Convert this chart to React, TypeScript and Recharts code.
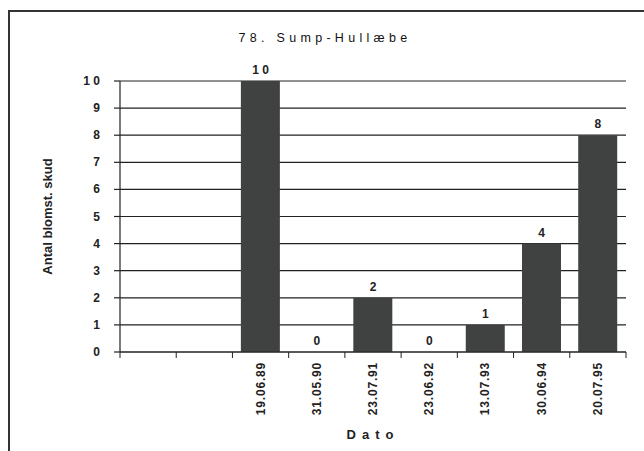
import { ComposedChart, Bar, Line, XAxis, YAxis, CartesianGrid } from "recharts";

// Sump-Hullæbe, antal blomstrende skud pr. optælling
const dates = ["", "", "19.06.89", "31.05.90", "23.07.91", "23.06.92", "13.07.93", "30.06.94", "20.07.95"];
const counts = [null, null, 10, 0, 2, 0, 1, 4, 8];
const yTicks = [0, 1, 2, 3, 4, 5, 6, 7, 8, 9, 10];

const data = dates.map((d, i) => ({ dato: d, antal: counts[i] }));

const ink = "#222";

// tallene er spredt ud som i originalen ("1 0")
const spread = (v: any) => String(v).split("").join(" ");

const DateTick = (props: any) => {
  const { x, y, payload, index } = props;
  const half = payload?.offset ?? 28;
  const axisY = y - 10;
  return (
    <g>
      <line x1={x - half} x2={x - half} y1={axisY} y2={axisY + 6} stroke={ink} />
      {index === dates.length - 1 && (
        <line x1={x + half} x2={x + half} y1={axisY} y2={axisY + 6} stroke={ink} />
      )}
      <text
        x={x}
        y={y}
        transform={`rotate(-90 ${x} ${y})`}
        textAnchor="end"
        dominantBaseline="central"
        fontSize={12}
        fontWeight="bold"
        fill={ink}
        letterSpacing={0.8}
      >
        {payload.value}
      </text>
    </g>
  );
};

const CountTick = (props: any) => {
  const { x, y, payload } = props;
  return (
    <text
      x={x}
      y={y}
      textAnchor="end"
      dominantBaseline="central"
      fontSize={12}
      fontWeight="bold"
      fill={ink}
      style={{ whiteSpace: "pre" }}
    >
      {spread(payload.value)}
    </text>
  );
};

const ValueLabel = (props: any) => {
  const { x, y, value } = props;
  if (value === null || value === undefined) return null;
  return (
    <text
      x={x}
      y={y - 7}
      textAnchor="middle"
      fontSize={12}
      fontWeight="bold"
      fill={ink}
      style={{ whiteSpace: "pre" }}
    >
      {spread(value)}
    </text>
  );
};

export default function App() {
  return (
    <div
      style={{
        position: "absolute",
        top: 0,
        left: 0,
        width: 644,
        height: 451,
        background: "#fff",
        fontFamily: "Arial, 'Liberation Sans', sans-serif",
      }}
    >
      {/* ramme */}
      <div
        style={{
          position: "absolute",
          left: 8,
          top: 10,
          width: 636,
          height: 441,
          borderTop: "2px solid #333",
          borderLeft: "2px solid #333",
        }}
      />
      <div
        style={{
          position: "absolute",
          top: 31,
          left: 0,
          width: 650,
          textAlign: "center",
          fontSize: 12.5,
          letterSpacing: 4.3,
          color: "#111",
        }}
      >
        78. Sump-Hullæbe
      </div>
      <ComposedChart
        width={644}
        height={451}
        data={data}
        margin={{ top: 81, right: 18, left: 0, bottom: 0 }}
        barCategoryGap="15%"
        style={{ position: "absolute", top: 0, left: 0 }}
      >
        <CartesianGrid vertical={false} stroke={ink} strokeWidth={1.2} />
        <XAxis
          dataKey="dato"
          height={99}
          interval={0}
          tickSize={6}
          tickMargin={4}
          tickLine={false}
          axisLine={{ stroke: ink, strokeWidth: 1.2 }}
          tick={<DateTick />}
          label={{
            value: "Dato",
            position: "insideBottom",
            offset: 12,
            fontSize: 13,
            fontWeight: "bold",
            fill: ink,
            letterSpacing: 6,
          }}
        />
        <YAxis
          width={120}
          domain={[0, 10]}
          ticks={yTicks}
          interval={0}
          tickSize={6}
          tickMargin={14}
          axisLine={{ stroke: ink, strokeWidth: 1.2 }}
          tickLine={{ stroke: ink, strokeWidth: 1.2 }}
          tick={<CountTick />}
          label={{
            value: "Antal blomst. skud",
            angle: -90,
            position: "insideLeft",
            offset: 47,
            fontSize: 13,
            fontWeight: "bold",
            fill: ink,
            style: { textAnchor: "middle" },
          }}
        />
        <Bar dataKey="antal" fill="#404241" isAnimationActive={false} />
        {/* usynlig serie, kun for at vise værdierne (også 0) */}
        <Line
          dataKey="antal"
          stroke="none"
          dot={false}
          activeDot={false}
          legendType="none"
          isAnimationActive={false}
          label={<ValueLabel />}
        />
      </ComposedChart>
    </div>
  );
}
